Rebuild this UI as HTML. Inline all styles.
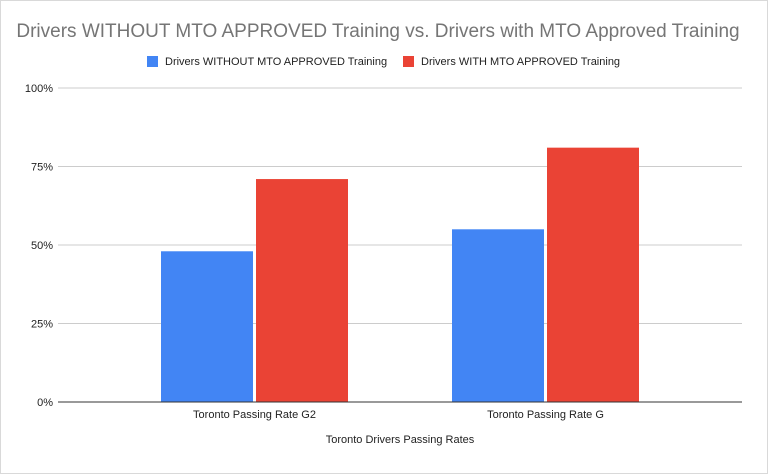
<!DOCTYPE html>
<html><head><meta charset="utf-8"><style>
html,body{margin:0;padding:0;background:#fff;}
svg{display:block;font-family:"Liberation Sans",Arial,sans-serif;}
</style></head><body>
<svg id="chart" width="768" height="474" viewBox="0 0 768 474">
<rect x="0.5" y="0.5" width="767" height="473" fill="#fff" stroke="#d9d9d9"/>
<text x="378" y="37" text-anchor="middle" font-size="19" fill="#757575">Drivers WITHOUT MTO APPROVED Training vs. Drivers with MTO Approved Training</text>
<g>
<g><rect x="147" y="56" width="11" height="11" fill="#4285f4"/><text x="165" y="65" font-size="11" fill="#222">Drivers WITHOUT MTO APPROVED Training</text></g>
<g><rect x="403" y="56" width="11" height="11" fill="#ea4335"/><text x="421" y="65" font-size="11" fill="#222">Drivers WITH MTO APPROVED Training</text></g>
</g>
<g id="grid"></g><g id="bars"></g><g id="axes"></g>
<text x="400" y="443" text-anchor="middle" font-size="11" fill="#222">Toronto Drivers Passing Rates</text>
</svg>
<script>
const categories=["Toronto Passing Rate G2","Toronto Passing Rate G"];
const withoutValues=[48,55];
const withValues=[71,81];
const tickValues=[0,25,50,75,100];
const tickLabels=["0%","25%","50%","75%","100%"];
const colors=["#4285f4","#ea4335"];
const NS="http://www.w3.org/2000/svg";
const y0=402,y1=88,left=58,right=742,bandStart=109,bandW=291,barW=92,gap=3;
const y=v=>y0-(v/100)*(y0-y1);
const xc=i=>bandStart+bandW*(i+0.5);
function mk(t,a,p){const e=document.createElementNS(NS,t);for(const k in a)e.setAttribute(k,a[k]);p.appendChild(e);return e;}
const grid=document.getElementById('grid'),bars=document.getElementById('bars'),axes=document.getElementById('axes');
tickValues.forEach((v,i)=>{
 const l=mk('line',{x1:left,x2:right,y1:y(v),y2:y(v),stroke:v===0?'#333':'#ccc','stroke-width':1},v===0?axes:grid);
 
 
 const t=mk('text',{x:53,y:y(v)+4,'text-anchor':'end','font-size':11,fill:'#222'},axes);
 t.textContent=tickLabels[i];
 
 
});
[withoutValues,withValues].forEach((series,s)=>{
 series.forEach((v,i)=>{
  const x=s===0?xc(i)-gap/2-barW:xc(i)+gap/2;
  const r=mk('rect',{x:x,y:y(v),width:barW,height:y0-y(v),fill:colors[s]},bars);
  
  
 });
});
categories.forEach((c,i)=>{
 const t=mk('text',{x:xc(i),y:418,'text-anchor':'middle','font-size':11,fill:'#222'},axes);
 t.textContent=c;
 
 
});
</script>
</body></html>
